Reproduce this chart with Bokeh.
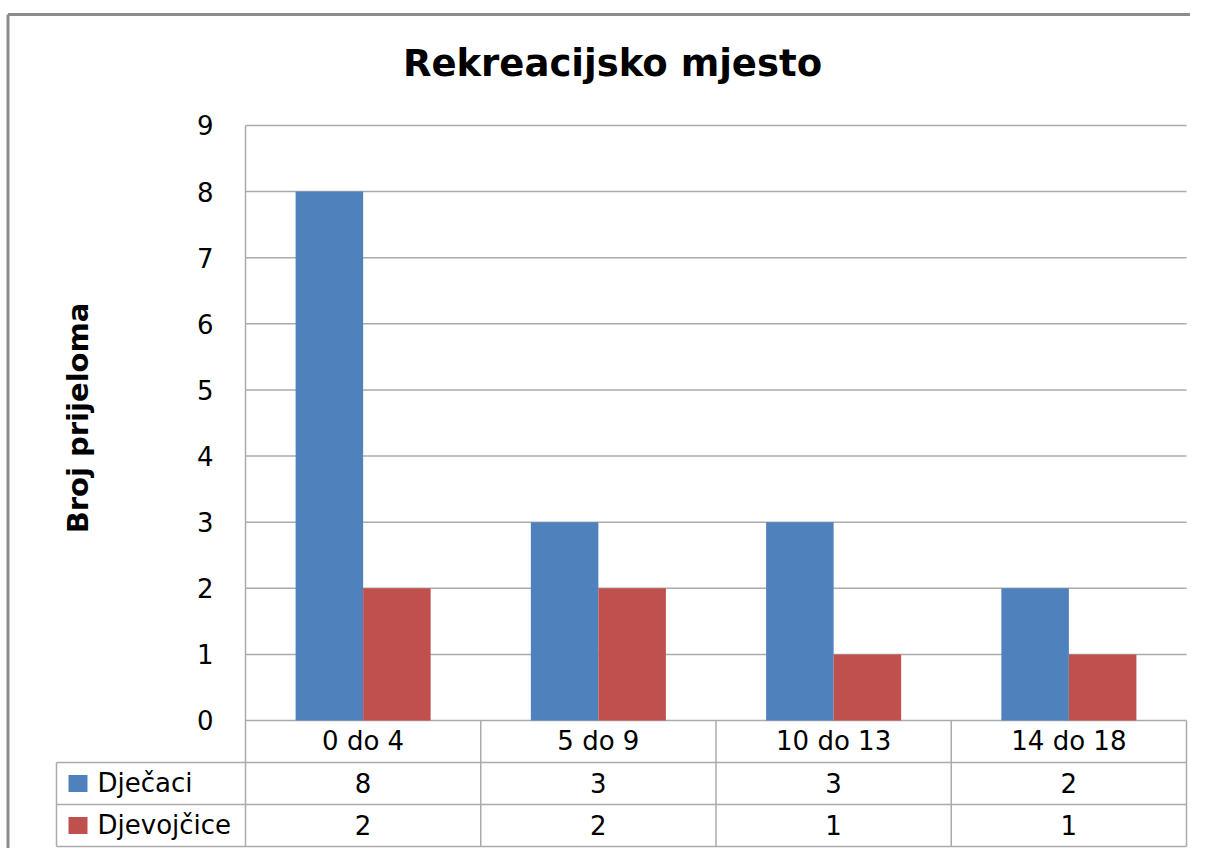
from bokeh.plotting import figure
from bokeh.models import Range1d, ColumnDataSource
from bokeh.core.properties import value
from bokeh.embed import file_html
from bokeh.resources import INLINE

# ---------------- data ----------------
categories = ["0 do 4", "5 do 9", "10 do 13", "14 do 18"]
series_names = ["Dječaci", "Djevojčice"]
djecaci = [8, 3, 3, 2]
djevojcice = [2, 2, 1, 1]
y_ticks = [0, 1, 2, 3, 4, 5, 6, 7, 8, 9]
title_text = "Rekreacijsko mjesto"
y_label_text = "Broj prijeloma"
colors = ["#4F81BD", "#C0504D"]

# ---------------- layout (canvas pixels) ----------------
W, H = 1190, 848
PLOT_LEFT, PLOT_RIGHT = 245, 1186
ZERO_Y, TOP_Y = 720, 125
ROW_LINES = [762, 804, 846]
TABLE_LEFT = 56
FONT = "DejaVu Sans"
GRID = "#ababab"
FS = 26          # body text size (px)
BASE_FIX = 0.35  # renderer baseline correction (em)

n = len(categories)
cat_w = (PLOT_RIGHT - PLOT_LEFT) / n
unit = (ZERO_Y - TOP_Y) / max(y_ticks)


def X(px):
    return (px - PLOT_LEFT) / cat_w


def Y(py):
    return (ZERO_Y - py) / unit


p = figure(width=W, height=H,
           x_range=Range1d(X(0), X(W)),
           y_range=Range1d(Y(H), Y(0)),
           output_backend="svg", toolbar_location=None,
           x_axis_location=None, y_axis_location=None,
           min_border=0, outline_line_color=None,
           background_fill_color="white", border_fill_color="white")
p.grid.visible = False

# outer chart border (left & top visible)
p.segment(x0=[X(7.5), X(7.5)], y0=[Y(14), Y(14)], x1=[X(7.5), X(W)], y1=[Y(H), Y(14)],
          line_color="#8c8c8c", line_width=3)

# horizontal gridlines
p.segment(x0=[0] * len(y_ticks), x1=[n] * len(y_ticks), y0=y_ticks, y1=y_ticks,
          line_color=GRID, line_width=1.5)

# bars
bw = 0.287
xb = [i + 0.5 - bw / 2 for i in range(n)]
xr = [i + 0.5 + bw / 2 for i in range(n)]
p.vbar(x=xb, top=djecaci, bottom=0, width=bw, fill_color=colors[0], line_color=None)
p.vbar(x=xr, top=djevojcice, bottom=0, width=bw, fill_color=colors[1], line_color=None)

# value axis line + category separators through the table
bottom = Y(ROW_LINES[-1])
p.segment(x0=[0], x1=[0], y0=[max(y_ticks)], y1=[bottom], line_color=GRID, line_width=1.5)
p.segment(x0=list(range(1, n + 1)), x1=list(range(1, n + 1)), y0=[0] * n, y1=[bottom] * n,
          line_color=GRID, line_width=1.5)
# table horizontal lines
p.segment(x0=[X(TABLE_LEFT)] * 3, x1=[n] * 3, y0=[Y(r) for r in ROW_LINES], y1=[Y(r) for r in ROW_LINES],
          line_color=GRID, line_width=1.5)
p.segment(x0=[X(TABLE_LEFT)], x1=[X(TABLE_LEFT)], y0=[Y(ROW_LINES[0])], y1=[bottom],
          line_color=GRID, line_width=1.5)

# body-text baseline offset from the visual centre of digits (px)
off = 9 - BASE_FIX * FS

# y tick labels
tick_src = ColumnDataSource(dict(x=[X(213)] * len(y_ticks), y=[t - off / unit for t in y_ticks],
                                 text=[str(t) for t in y_ticks]))
p.text(x="x", y="y", text="text", source=tick_src, text_font=value(FONT), text_font_size=f"{FS}px",
       text_align="right", text_baseline="alphabetic", text_color="#000000")

# category labels (table header row)
hdr_base = (ZERO_Y + ROW_LINES[0]) / 2 + off
cat_src = ColumnDataSource(dict(x=[i + 0.5 for i in range(n)], y=[Y(hdr_base)] * n, text=categories))
p.text(x="x", y="y", text="text", source=cat_src, text_font=value(FONT), text_font_size=f"{FS}px",
       text_align="center", text_baseline="alphabetic", text_color="#000000")

# table values
row_mid = [(ROW_LINES[0] + ROW_LINES[1]) / 2, (ROW_LINES[1] + ROW_LINES[2]) / 2]
row_base = [Y(m + off) for m in row_mid]
for vals, yb in zip([djecaci, djevojcice], row_base):
    src = ColumnDataSource(dict(x=[i + 0.5 for i in range(n)], y=[yb] * n, text=[str(v) for v in vals]))
    p.text(x="x", y="y", text="text", source=src, text_font=value(FONT), text_font_size=f"{FS}px",
           text_align="center", text_baseline="alphabetic", text_color="#000000")

# legend keys in table
p.quad(left=[X(68)] * 2, right=[X(87)] * 2, top=[Y(m - 8.5) for m in row_mid],
       bottom=[Y(m + 8.5) for m in row_mid], fill_color=colors, line_color=None)
leg_src = ColumnDataSource(dict(x=[X(97)] * 2, y=row_base, text=series_names))
p.text(x="x", y="y", text="text", source=leg_src, text_font=value(FONT), text_font_size=f"{FS}px",
       text_align="left", text_baseline="alphabetic", text_color="#000000")

# title
TFS = 37
p.text(x=[X(612)], y=[Y(76 - BASE_FIX * TFS)], text=[title_text], text_font=value(FONT),
       text_font_size=f"{TFS}px", text_font_style="bold", text_align="center",
       text_baseline="alphabetic", text_color="#000000")

# y axis label
LFS = 29
p.text(x=[X(88 - BASE_FIX * LFS)], y=[Y(417.5)], text=[y_label_text], angle=1.5707963,
       text_font=value(FONT), text_font_size=f"{LFS}px", text_font_style="bold",
       text_align="center", text_baseline="alphabetic", text_color="#000000")

open("out.html", "w").write(file_html(p, INLINE))
